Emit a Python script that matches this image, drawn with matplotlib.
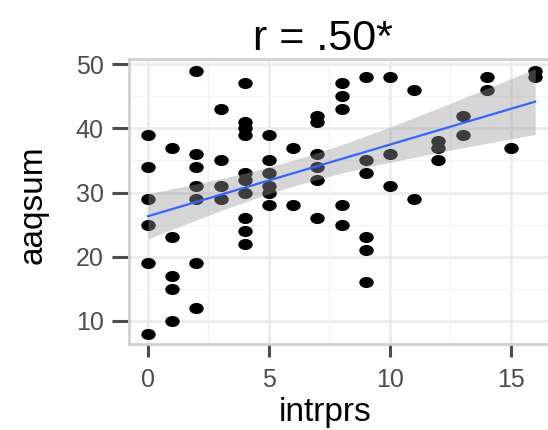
import numpy as np
import matplotlib
matplotlib.use("Agg")
import matplotlib.pyplot as plt
from matplotlib.markers import MarkerStyle
from matplotlib.transforms import Affine2D

plt.rcParams['font.family'] = ['Liberation Sans', 'DejaVu Sans']

# values, one list of aaqsum per intrprs level
intrprs_levels = [0, 1, 2, 3, 4, 5, 6, 7, 8, 9, 10, 11, 12, 13, 14, 15, 16]
aaqsum_by_level = [
    [39, 34, 29, 25, 19, 8],
    [37, 23, 17, 15, 10],
    [49, 36, 34, 31, 29, 19, 12],
    [43, 35, 31, 29],
    [47, 41, 40, 39, 33, 32, 30, 26, 24, 22],
    [39, 35, 33, 31, 30, 28],
    [37, 28],
    [42, 41, 36, 34, 32, 26],
    [47, 45, 43, 28, 25],
    [48, 35, 33, 23, 21, 16],
    [48, 36, 31],
    [46, 29],
    [38, 37, 35],
    [42, 39],
    [48, 46],
    [37],
    [49, 48],
]
title = "r = .50*"

x = np.concatenate([[lv] * len(v) for lv, v in zip(intrprs_levels, aaqsum_by_level)]).astype(float)
y = np.concatenate(aaqsum_by_level).astype(float)

# lm fit with 95% band, like geom_smooth(method = "lm")
n = len(x)
slope, icpt = np.polyfit(x, y, 1)
resid = y - (icpt + slope * x)
s_err = np.sqrt(np.sum(resid ** 2) / (n - 2))
df = n - 2
z = 1.959964
tq = z + (z ** 3 + z) / (4 * df)
xs = np.linspace(x.min(), x.max(), 80)
fit = icpt + slope * xs
se = s_err * np.sqrt(1 / n + (xs - x.mean()) ** 2 / np.sum((x - x.mean()) ** 2))

fig = plt.figure(figsize=(5.48, 4.30), dpi=100)
ax = fig.add_axes([0.2347, 0.2, 0.7653, 0.662])
ax.set_facecolor('white')

dot = MarkerStyle('o', transform=Affine2D().scale(1.3, 1.0))
ax.scatter(x, y, s=64, marker=dot, color='black', linewidths=0, zorder=2)
ax.fill_between(xs, fit - tq * se, fit + tq * se, color='#999999', alpha=0.4,
                linewidth=0, zorder=3)
ax.plot(xs, fit, color='#3366FF', linewidth=1.6, zorder=4)

ax.set_xlim(-0.8, 16.53)
ax.set_ylim(6.4, 50.75)
ax.set_xticks([0, 5, 10, 15])
ax.set_yticks([10, 20, 30, 40, 50])
ax.set_xticks([2.5, 7.5, 12.5], minor=True)
ax.set_yticks([15, 25, 35, 45], minor=True)
ax.grid(True, which='major', color='#EBEBEB', linewidth=1.8, zorder=0)
ax.grid(True, which='minor', color='#F4F4F4', linewidth=1.0, zorder=0)
ax.set_axisbelow(True)

for side in ['left', 'bottom', 'top']:
    ax.spines[side].set_color('#D0D0D0')
    ax.spines[side].set_linewidth(2)
ax.spines['right'].set_visible(False)

ax.tick_params(axis='x', which='major', length=9, width=2.2, color='#4D4D4D',
               labelsize=18, labelcolor='#4D4D4D', pad=8)
ax.tick_params(axis='y', which='major', length=12, width=2.2, color='#4D4D4D',
               labelsize=18, labelcolor='#4D4D4D', pad=6)
ax.tick_params(which='minor', length=0)

fig.text(0.593, 0.021, "intrprs", fontsize=24, ha='center', va='baseline')
fig.text(0.06, 0.523, "aaqsum", fontsize=24, ha='center', va='center', rotation=90)
fig.text(0.59, 0.884, title, fontsize=31, ha='center', va='baseline')

fig.savefig("out.png", dpi=100)
